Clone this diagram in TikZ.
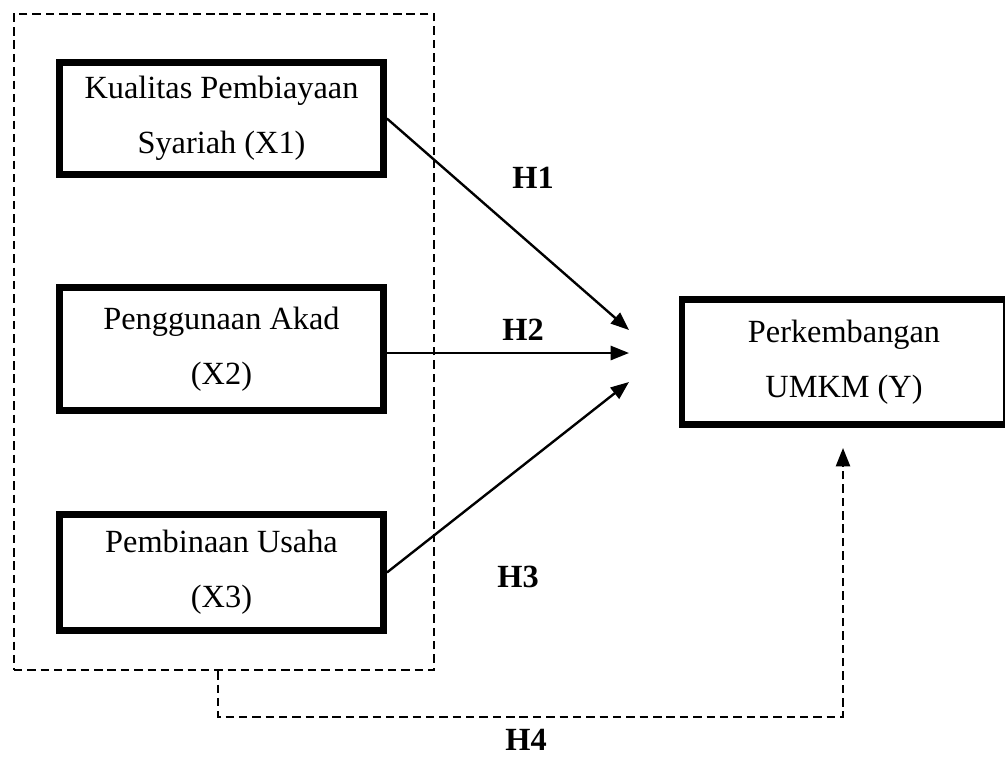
\documentclass[tikz,border=0pt]{standalone}
\usepackage{fontspec}
\setmainfont{Liberation Serif}
\usetikzlibrary{positioning,arrows.meta}

\begin{document}
\begin{tikzpicture}[x=0.025cm,y=-0.025cm,>={Triangle[length=13pt,width=10pt]},
	varbox/.style={draw=black,line width=4.8pt,fill=white,minimum width=8.1cm,inner sep=0pt,align=center,font=\fontsize{23}{39}\selectfont},
	hlabel/.style={font=\fontsize{23}{27}\selectfont\bfseries},
	grpline/.style={line width=1.5pt,dash pattern=on 6pt off 3.5pt}]
				\useasboundingbox (0,0) rectangle (1005,778);
				\node[grpline,draw,minimum width=10.5cm,minimum height=16.4cm,inner sep=0pt] (grp) at (224,342) {};
				\node[varbox,minimum height=2.8cm] (x1) at (221.5,118.5) {Kualitas Pembiayaan\\Syariah (X1)};
				\node[varbox,minimum height=3.075cm] (x2) at (221.5,349) {Penggunaan Akad\\(X2)};
				\node[varbox,minimum height=2.9cm] (x3) at (221.5,572.5) {Pembinaan Usaha\\(X3)};
				\node[varbox,minimum height=3.125cm] (y) at (844,362) {Perkembangan\\UMKM (Y)};
				\coordinate (t1) at (629,330);\coordinate (t2) at (629,353);\coordinate (t3) at (629,382);
				\coordinate (c4) at (218,717);\coordinate (t4) at (843,448);
				\draw[->,line width=1.7pt] (x1.east) -- (t1);\node[hlabel] (h1) at (533,178) {H1};
				\draw[->,line width=1.7pt] (x2.east |- t2) -- (t2);\node[hlabel] (h2) at (523,330) {H2};
				\draw[->,line width=1.7pt] (x3.east) -- (t3);\node[hlabel] (h3) at (518,577) {H3};
				\draw[->,grpline] (grp.south -| c4) -- (c4) -| (t4);\node[hlabel] (h4) at (526,740) {H4};
			\end{tikzpicture}
\end{document}
